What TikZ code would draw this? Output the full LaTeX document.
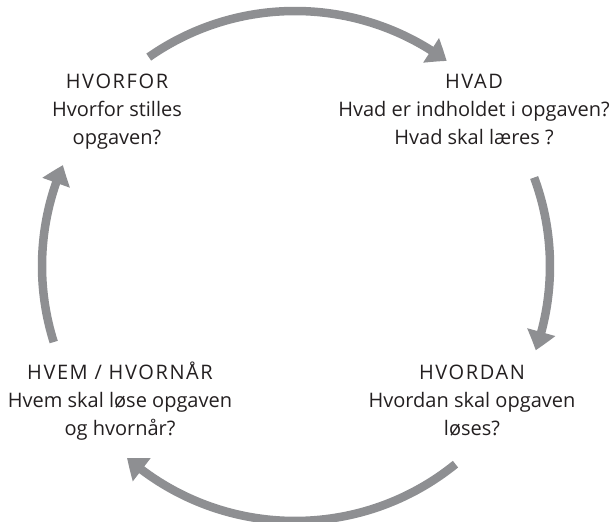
\documentclass[tikz,border=0pt]{standalone}
\usepackage{fontspec}
\setmainfont{Open Sans}
\usetikzlibrary{arrows.meta,bending}
\definecolor{arrowgray}{HTML}{8E8F92}
\definecolor{txtcol}{HTML}{231F20}
\begin{document}
\begin{tikzpicture}[x=1pt,y=1pt,
  cyc/.style={draw=arrowgray, line width=8.5pt, -{Triangle[length=19pt,width=28pt,bend]}},
  head/.style={anchor=base, inner sep=0pt, text=txtcol, font=\fontsize{20}{24}\selectfont\addfontfeatures{LetterSpace=8}},
  txt/.style={anchor=base, inner sep=0pt, text=txtcol, font=\fontsize{20}{24}\selectfont}]
\useasboundingbox (0,0) rectangle (614,522);
\coordinate (c) at (295,256);
% arrows
\draw[cyc] ([shift={(125:255)}]c) arc[start angle=125,end angle=53.5,radius=255];
\draw[cyc] ([shift={(20.3:255)}]c) arc[start angle=20.3,end angle=-19.3,radius=255];
\draw[cyc] ([shift={(-51:255)}]c) arc[start angle=-51,end angle=-131.2,radius=255];
\draw[cyc] ([shift={(197.5:253)}]c) arc[start angle=197.5,end angle=156.5,radius=253];
% HVORFOR
\node[head] (h1) at (117,433) {HVORFOR};
\node[txt] (h1a) at (117,405) {Hvorfor stilles};
\node[txt] (h1b) at (117,377) {opgaven?};
% HVAD
\node[head] (h2) at (474,433) {HVAD};
\node[txt] (h2a) at (474,405) {Hvad er indholdet i opgaven?};
\node[txt] (h2b) at (474,377) {Hvad skal læres ?};
% HVORDAN
\node[head] (h3) at (472,142) {HVORDAN};
\node[txt] (h3a) at (472,114) {Hvordan skal opgaven};
\node[txt] (h3b) at (472,86) {løses?};
% HVEM
\node[head] (h4) at (120,142) {HVEM / HVORNÅR};
\node[txt] (h4a) at (120,114) {Hvem skal løse opgaven};
\node[txt] (h4b) at (120,86) {og hvornår?};
\end{tikzpicture}
\end{document}
